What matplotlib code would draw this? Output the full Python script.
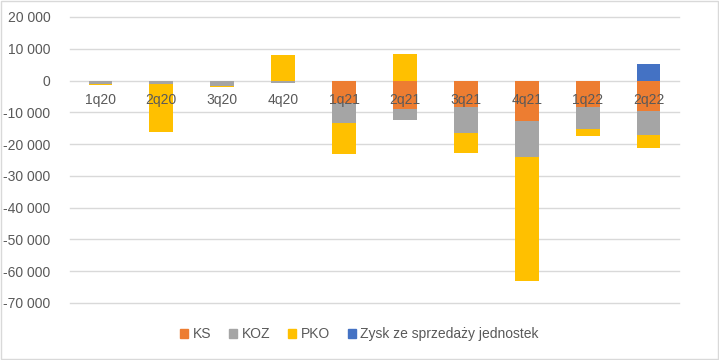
import matplotlib.pyplot as plt
import numpy as np
from matplotlib.patches import Patch
from matplotlib.ticker import FuncFormatter

plt.rcParams["font.family"] = ["Liberation Sans", "DejaVu Sans"]

quarters = ["1q20", "2q20", "3q20", "4q20", "1q21", "2q21", "3q21", "4q21", "1q22", "2q22"]
ks = [0, 0, 0, 0, -7000, -8800, -8400, -12600, -8400, -9700]
koz = [-1100, -1000, -1800, -800, -6200, -3700, -8200, -11500, -6700, -7500]
pko = [-300, -15200, -300, 7900, -9800, 8500, -6300, -39100, -2400, -4100]
zysk = [0, 0, 0, 0, 0, 0, 0, 0, 0, 5300]

series = [("KS", ks, "#ED7D31"), ("KOZ", koz, "#A5A5A5"),
          ("PKO", pko, "#FFC000"), ("Zysk ze sprzedaży jednostek", zysk, "#4472C4")]

text_col = "#595959"
fs = 10

fig = plt.figure(figsize=(7.19, 3.6), dpi=100)
ax = fig.add_axes([70 / 719, 1 - 303 / 360, (679 - 70) / 719, (303 - 17) / 360])

x = np.arange(len(quarters))
pos_base = np.zeros(len(quarters))
neg_base = np.zeros(len(quarters))
for name, vals, col in series:
    vals = np.array(vals, dtype=float)
    base = np.where(vals >= 0, pos_base, neg_base)
    ax.bar(x, vals, bottom=base, width=0.39, color=col, zorder=2)
    pos_base += np.clip(vals, 0, None)
    neg_base += np.clip(vals, None, 0)

ax.set_xlim(-0.5, len(quarters) - 0.5)
ax.set_ylim(-70000, 20000)
ax.set_yticks(np.arange(-70000, 20001, 10000))
ax.yaxis.set_major_formatter(FuncFormatter(lambda v, p: f"{int(v):,}".replace(",", " ")))
ax.set_xticks([])
ax.grid(axis="y", color="#D9D9D9", linewidth=1, zorder=0)
for gl in ax.get_ygridlines():
    gl.set_clip_on(False)
ax.tick_params(axis="y", length=0, labelsize=fs, labelcolor=text_col, pad=14)
for s in ax.spines.values():
    s.set_visible(False)

for xi, q in zip(x, quarters):
    ax.text(xi, -6200, q, ha="center", va="center", fontsize=fs, color=text_col, zorder=5)

handles = [Patch(color=col, label=name) for name, _, col in series]
fig.legend(handles=handles, loc="center", bbox_to_anchor=(0.5, 1 - 334 / 360), ncol=4,
           frameon=False, fontsize=fs, handlelength=0.6, handleheight=0.6,
           handletextpad=0.3, columnspacing=1.3, labelcolor=text_col)

fig.patches.append(plt.Rectangle((0.001, 0.002), 0.997, 0.995, transform=fig.transFigure,
                                 fill=False, edgecolor="#D9D9D9", linewidth=1))

fig.savefig("out.png", dpi=100)
